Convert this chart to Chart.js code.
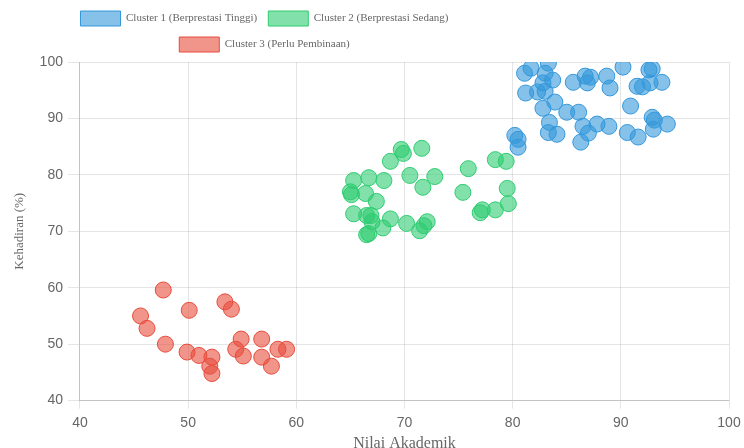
<!DOCTYPE html>
<html>
<head>
<meta charset="utf-8">
<script src="https://cdn.jsdelivr.net/npm/chart.js@4.4.1/dist/chart.umd.min.js"></script>
<style>
  html, body { margin: 0; padding: 0; background: #ffffff; overflow: hidden; }
  #wrap { width: 744px; height: 448px; overflow: hidden; }
</style>
</head>
<body>
<div id="wrap"><canvas id="c" width="744" height="448"></canvas></div>
<script>
// ---- data ----
const seriesNames = [
  'Cluster 1 (Berprestasi Tinggi)',
  'Cluster 2 (Berprestasi Sedang)',
  'Cluster 3 (Perlu Pembinaan)'
];

const cluster1X = [81.1, 81.7, 83.3, 83.0, 83.7, 82.8, 81.2, 82.3, 83.0, 83.9, 82.8, 85.0, 86.1, 85.6, 86.7,
                   86.9, 87.2, 88.7, 89.0, 90.2, 83.4, 83.3, 84.1, 86.5, 87.0, 87.8, 88.9, 86.3, 80.2, 80.5,
                   80.5, 92.6, 92.9, 91.5, 92.0, 92.7, 93.8, 90.9, 92.9, 93.1, 94.3, 93.0, 90.6, 91.6];
const cluster1Y = [98.0, 98.9, 99.8, 98.0, 96.8, 96.3, 94.5, 94.7, 94.8, 92.9, 91.8, 91.1, 91.1, 96.4, 97.5,
                   96.3, 97.3, 97.5, 95.4, 99.1, 89.3, 87.5, 87.2, 88.6, 87.4, 89.0, 88.6, 85.8, 87.0, 86.3,
                   84.9, 98.6, 98.8, 95.7, 95.6, 96.3, 96.4, 92.2, 90.2, 89.7, 89.0, 88.1, 87.5, 86.7];

const cluster2X = [69.7, 69.9, 71.6, 68.7, 70.5, 72.8, 71.7, 65.3, 66.7, 68.1, 65.0, 65.1, 66.4, 67.4, 65.3,
                   66.5, 66.9, 67.0, 68.7, 70.2, 72.1, 71.8, 71.4, 68.0, 66.7, 66.5, 75.9, 78.4, 79.4, 75.4,
                   79.5, 79.6, 78.4, 77.2, 77.0];
const cluster2Y = [84.5, 83.8, 84.7, 82.4, 79.9, 79.7, 77.8, 79.0, 79.5, 79.0, 77.0, 76.5, 76.7, 75.3, 73.1,
                   72.8, 72.8, 71.7, 72.2, 71.4, 71.7, 71.0, 70.1, 70.6, 69.6, 69.4, 81.1, 82.7, 82.4, 76.9,
                   77.6, 74.9, 73.8, 73.8, 73.3];

const cluster3X = [47.7, 45.6, 46.2, 50.1, 53.4, 54.0, 47.9, 49.9, 51.0, 52.2, 52.0, 52.2, 54.9, 54.4, 55.1,
                   56.8, 56.8, 58.3, 59.1, 57.7];
const cluster3Y = [59.6, 55.0, 52.8, 56.0, 57.5, 56.2, 50.0, 48.6, 48.0, 47.7, 46.1, 44.8, 50.9, 49.1, 47.9,
                   50.9, 47.7, 49.1, 49.1, 46.1];

const xTicks = [40, 50, 60, 70, 80, 90, 100];
const yTicks = [40, 50, 60, 70, 80, 90, 100];
const xTitle = 'Nilai Akademik';
const yTitle = 'Kehadiran (%)';

// ---- build chart ----
const zip = (xs, ys) => xs.map((x, i) => ({ x: x, y: ys[i] }));

const LEG_W = 529;   // width in which the legend rows wrap and centre
const LEG_H = 62;    // height reserved by the legend

const legendWrap = {
  id: 'legendWrap',
  beforeLayout(chart) {
    const lg = chart.legend;
    if (lg && !lg.__patched) {
      const orig = lg.update;
      lg.update = function (w, h, m) {
        const r = orig.call(this, LEG_W, h, m);
        this.height = LEG_H;
        return r;
      };
      lg.__patched = true;
    }
  },
  afterLayout(chart) {
    const lg = chart.legend;
    if (lg) { lg.left = 0; lg.right = LEG_W; lg.width = LEG_W; }
  }
};

const serif = "'Liberation Serif', 'Times New Roman', serif";
const sans = "'Liberation Sans', Arial, sans-serif";

new Chart(document.getElementById('c'), {
  type: 'scatter',
  data: {
    datasets: [
      { label: seriesNames[0], data: zip(cluster1X, cluster1Y),
        backgroundColor: 'rgba(52,152,219,0.6)', borderColor: 'rgba(52,152,219,1)' },
      { label: seriesNames[1], data: zip(cluster2X, cluster2Y),
        backgroundColor: 'rgba(46,204,113,0.6)', borderColor: 'rgba(46,204,113,1)' },
      { label: seriesNames[2], data: zip(cluster3X, cluster3Y),
        backgroundColor: 'rgba(231,76,60,0.6)', borderColor: 'rgba(231,76,60,1)' }
    ]
  },
  options: {
    responsive: false,
    animation: false,
    devicePixelRatio: 1,
    elements: { point: { radius: 8, borderWidth: 1, hoverRadius: 8 } },
    layout: { padding: { left: 10, right: 15, top: 0, bottom: -7 } },
    plugins: {
      legend: {
        position: 'top',
        labels: {
          boxWidth: 40, boxHeight: 15, padding: 11,
          color: '#666',
          font: { family: serif, size: 11 }
        }
      },
      tooltip: { enabled: false }
    },
    scales: {
      x: {
        type: 'linear',
        min: xTicks[0], max: xTicks[xTicks.length - 1],
        afterBuildTicks: (s) => { s.ticks = xTicks.map(v => ({ value: v })); },
        afterFit: (s) => { s.paddingRight = 0; },
        grid: { color: 'rgba(0,0,0,0.1)', tickLength: 8 },
        border: { color: 'rgba(0,0,0,0.15)' },
        ticks: { color: '#666', padding: 6, font: { family: sans, size: 14 } },
        title: { display: true, text: xTitle, color: '#666',
                 padding: { top: 0, bottom: 4 }, font: { family: serif, size: 16, lineHeight: 0.85 } }
      },
      y: {
        type: 'linear',
        min: yTicks[0], max: yTicks[yTicks.length - 1],
        afterBuildTicks: (s) => { s.ticks = yTicks.map(v => ({ value: v })); },
        grid: { color: 'rgba(0,0,0,0.1)', tickLength: 12 },
        border: { color: 'rgba(0,0,0,0.15)' },
        ticks: { color: '#666', padding: 5, font: { family: sans, size: 14 } },
        title: { display: true, text: yTitle, color: '#666',
                 padding: { top: 2, bottom: 7 }, font: { family: serif, size: 13 } }
      }
    }
  },
  plugins: [legendWrap]
});
</script>
</body>
</html>
